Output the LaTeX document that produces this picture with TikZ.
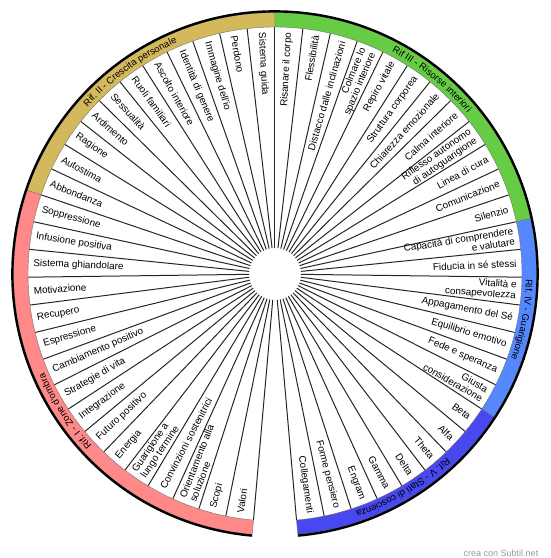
\documentclass[tikz,border=0pt]{standalone}
\usepackage{fontspec}
\setmainfont{Liberation Sans}
\usetikzlibrary{decorations.text}

\definecolor{ombra}{RGB}{255,136,136}
\definecolor{crescita}{RGB}{212,184,92}
\definecolor{risorse}{RGB}{102,204,68}
\definecolor{guarigione}{RGB}{85,136,255}
\definecolor{coscienza}{RGB}{72,72,240}

\begin{document}
\begin{tikzpicture}[x=1pt,y=1pt]
    \tikzset{
        fascia/.style={draw=black!55,line width=0.4pt},
        raggio/.style={draw=black!85,line width=1pt},
        voce/.style={font=\fontsize{9.9}{10.6}\selectfont,inner sep=0pt},
        sinistra/.style={voce,anchor=west,align=left},
        destra/.style={voce,anchor=east,align=right},
        rif/.style={decorate,decoration={text along path,text align=center,
            text={|\fontsize{9.6}{10.5}\selectfont|#1}}}
    }
    \useasboundingbox (-275,-284) rectangle (275,274);

    \foreach \i in {0,...,54}{
        \pgfmathsetmacro\a{265-\i*6.481481}
        \draw[raggio] (\a:26) -- (\a:247);
    }

    \filldraw[fascia,fill=ombra] (265:247) arc[start angle=265,end angle=161.2963,radius=247]
        -- (161.2963:261.5) arc[start angle=161.2963,end angle=265,radius=261.5] -- cycle;
    \filldraw[fascia,fill=crescita] (161.2963:247) arc[start angle=161.2963,end angle=90,radius=247]
        -- (90:261.5) arc[start angle=90,end angle=161.2963,radius=261.5] -- cycle;
    \filldraw[fascia,fill=risorse] (90:247) arc[start angle=90,end angle=12.2222,radius=247]
        -- (12.2222:261.5) arc[start angle=12.2222,end angle=90,radius=261.5] -- cycle;
    \filldraw[fascia,fill=guarigione] (12.2222:247) arc[start angle=12.2222,end angle=-33.1481,radius=247]
        -- (-33.1481:261.5) arc[start angle=-33.1481,end angle=12.2222,radius=261.5] -- cycle;
    \filldraw[fascia,fill=coscienza] (-33.1481:247) arc[start angle=-33.1481,end angle=-85,radius=247]
        -- (-85:261.5) arc[start angle=-85,end angle=-33.1481,radius=261.5] -- cycle;
    \draw[line width=2.4pt] (265:262.6) arc[start angle=265,end angle=-85,radius=262.6];

    \path[rif={Rif. I - Zone d'ombra}] (265:251)
        arc[start angle=265,end angle=161.2963,radius=251];
    \path[rif={Rif. II - Crescita personale}] (161.2963:251)
        arc[start angle=161.2963,end angle=90,radius=251];
    \path[rif={Rif III - Risorse interiori}] (90:251)
        arc[start angle=90,end angle=12.2222,radius=251];
    \path[rif={Rif. IV - Guarigione}] (12.2222:251)
        arc[start angle=12.2222,end angle=-33.1481,radius=251];
    \path[rif={Rif. V - Stati di coscienza}] (-33.1481:251)
        arc[start angle=-33.1481,end angle=-85,radius=251];

    \foreach \testo [count=\i from 0] in {Valori, Scopi,
        {Orientamento alla\\soluzione}, Convinzioni sostenitrici,
        {Guarigione a\\lungo termine}, Energia, Futuro positivo, Integrazione,
        Strategie di vita, Cambiamento positivo, Espressione, Recupero,
        Motivazione, Sistema ghiandolare, Infusione positiva, Soppressione,
        Abbondanza, Autostima, Ragione, Ardimento, Sessualità, Ruoli familiari,
        Ascolto interiore, Identità di genere, Immagine dell'io, Perdono,
        Sistema guida, Risanare il corpo, Flessibilità,
        Distacco dalle inclinazioni, {Colmare lo\\spazio interiore},
        Repiro vitale, Struttura corporea, Chiarezza emozionale,
        Calma interiore, {Riflesso autonomo\\di autoguarigione}, Linea di cura,
        Comunicazione, Silenzio, {Capacità di comprendere\\e valutare},
        Fiducia in sé stessi, {Vitalità e\\consapevolezza}, Appagamento del Sé,
        Equilibrio emotivo, Fede e speranza, {Giusta\\considerazione}, Beta,
        Alfa, Theta, Delta, Gamma, Engram, Forme pensiero, Collegamenti}{
        \pgfmathsetmacro\m{265-(\i+0.5)*6.481481}
        \ifdim\m pt>90pt
            \node[sinistra,rotate=\m+180] (v\i) at (\m:242) {\testo};
        \else
            \node[destra,rotate=\m] (v\i) at (\m:242) {\testo};
        \fi
    }

    \node[font=\fontsize{9}{10}\selectfont,text=black!40] (firma) at (226,-279)
        {crea con Subtil.net};
\end{tikzpicture}
\end{document}
